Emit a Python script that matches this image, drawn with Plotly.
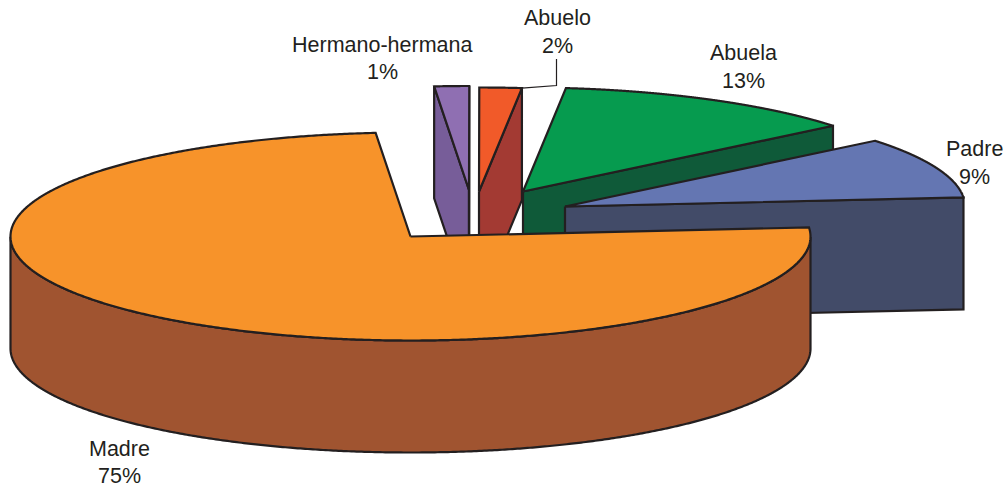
import numpy as np
import plotly.graph_objects as go

# --- data ---
categories = ["Hermano-hermana", "Abuelo", "Abuela", "Padre", "Madre"]
values = [1.4, 1.7, 12.4, 9.5, 75.0]
shown_percent = [1, 2, 13, 9, 75]

# --- geometry and style ---
START_ANGLE = 95.0
CX, CY, RX, RY, DEPTH = 410.5, 236.5, 400.0, 104.0, 112.0
OFFSETS = [(58.5, -46.5), (68.5, -45), (112.5, -45), (154.5, -30), (0, 0)]
TOP = ["#8F6FB2", "#F15A29", "#069B4F", "#6476B2", "#F7932A"]
SIDE = ["#775D99", "#A33A33", "#0F5A39", "#424B68", "#A05430"]
INK = "#231F20"
LABEL_POS = [(382, 45, 72), (557, 18, 46), (743, 53, 81), (974.5, 149, 177), (119, 449, 476)]

fig = go.Figure()


def poly(xs, ys, color):
    fig.add_trace(go.Scatter(
        x=np.append(xs, xs[0]), y=np.append(ys, ys[0]), mode="lines", fill="toself",
        fillcolor=color, line=dict(color=INK, width=2.2, simplify=False),
        hoverinfo="skip", showlegend=False))


total = sum(values)
a = START_ANGLE
for v, (dx, dy), top, side in zip(values, OFFSETS, TOP, SIDE):
    b = a - 360.0 * v / total
    cx, cy = CX + dx, CY + dy
    px = lambda t: cx + RX * np.cos(np.radians(t))
    py = lambda t: cy - RY * np.sin(np.radians(t))
    # cut faces that look towards the viewer
    for t, visible in ((a, np.cos(np.radians(a)) < 0), (b, np.cos(np.radians(b)) > 0)):
        if visible:
            poly(np.array([cx, px(t), px(t), cx]),
                 np.array([cy, py(t), py(t) + DEPTH, cy + DEPTH]), side)
    # outer wall: the part of the rim on the front half
    ts = np.linspace(a, b, 721)
    front = ts[np.sin(np.radians(ts)) < 0]
    if front.size:
        poly(np.concatenate([px(front), px(front[::-1])]),
             np.concatenate([py(front), py(front[::-1]) + DEPTH]), side)
    # top face
    poly(np.concatenate([[cx], px(ts)]), np.concatenate([[cy], py(ts)]), top)
    a = b

# leader line of the "Abuelo" label
a1 = START_ANGLE - 360.0 * sum(values[:2]) / total
fig.add_trace(go.Scatter(
    x=[CX + OFFSETS[1][0] + RX * np.cos(np.radians(a1)), 556.5, 556.5],
    y=[CY + OFFSETS[1][1] - RY * np.sin(np.radians(a1)), 85.5, 59],
    mode="lines", line=dict(color=INK, width=1.2), hoverinfo="skip", showlegend=False))

for name, pct, (x, y1, y2) in zip(categories, shown_percent, LABEL_POS):
    for txt, y in ((name, y1), (f"{pct}%", y2)):
        fig.add_annotation(x=x, y=y, text=txt, showarrow=False, xanchor="center", yanchor="middle",
                           font=dict(family="Liberation Sans", size=21.5, color=INK))

fig.update_layout(
    width=1008, height=487, margin=dict(l=0, r=0, t=0, b=0),
    paper_bgcolor="white", plot_bgcolor="white", showlegend=False,
    xaxis=dict(range=[0, 1008], visible=False, fixedrange=True),
    yaxis=dict(range=[487, 0], visible=False, fixedrange=True),
)
fig.write_html("out.html", config={"displayModeBar": False},
               post_script="document.body.style.margin='0';document.body.style.overflow='hidden';")
